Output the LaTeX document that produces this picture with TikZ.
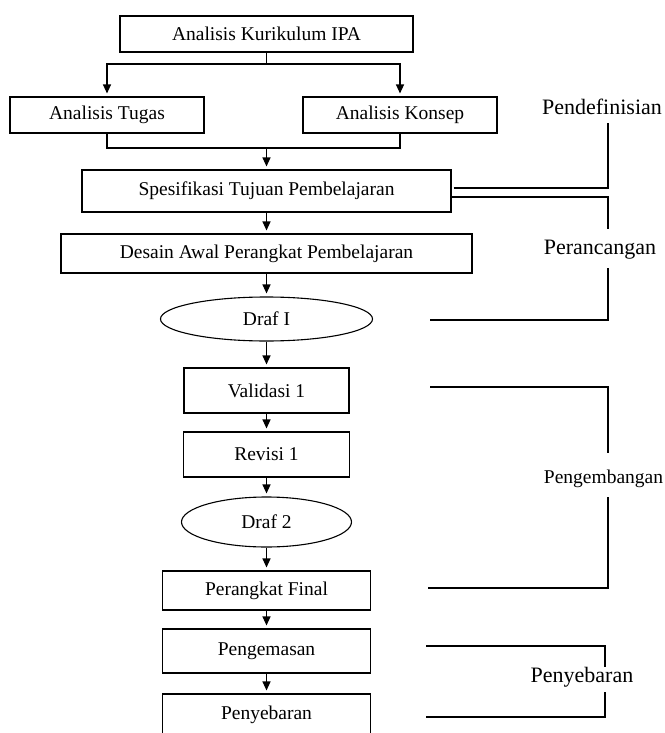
\documentclass[tikz,border=0pt]{standalone}
\usepackage{fontspec}
\setmainfont{Liberation Serif}
\usetikzlibrary{shapes.geometric, arrows.meta}
\tikzset{
  stepbox/.style={draw, rectangle, line width=1.1pt, inner sep=0pt},
  drafnode/.style={draw, ellipse, line width=1.1pt, inner sep=0pt},
  flow/.style={->, line width=1.2pt, shorten >=3pt},
  link/.style={line width=1.2pt},
  stagetext/.style={font=\fontsize{22}{24}\selectfont}
}

\begin{document}
\begin{tikzpicture}[x=1pt, y=-1pt, >={Triangle[length=9pt,width=8pt]}, every node/.style={font=\fontsize{19.5}{22}\selectfont}]

\useasboundingbox (0,0) rectangle (664,733);
\clip (0,0) rectangle (664,733);

% Analysis steps
\node[stepbox, minimum width=293pt, minimum height=36pt] (kur) at (266.5,34) {Analisis Kurikulum IPA};
\node[stepbox, minimum width=194pt, minimum height=36pt] (tugas) at (107,115) {Analisis Tugas};
\node[stepbox, minimum width=194pt, minimum height=36pt] (konsep) at (400,115) {Analisis Konsep};
\node[stepbox, minimum width=369pt, minimum height=42pt] (spes) at (266.5,191) {Spesifikasi Tujuan Pembelajaran};

% Design and development steps
\node[stepbox, minimum width=411pt, minimum height=39pt] (desain) at (266.5,253.5) {Desain Awal Perangkat Pembelajaran};
\node[drafnode, minimum width=212pt, minimum height=44pt] (draf1) at (266.5,319) {Draf I};
\node[stepbox, minimum width=165pt, minimum height=45pt] (val) at (266.5,390.5) {Validasi 1};
\node[stepbox, minimum width=166pt, minimum height=45pt] (rev) at (266.5,454.5) {Revisi 1};
\node[drafnode, minimum width=170pt, minimum height=50pt] (draf2) at (266.5,522) {Draf 2};
\node[stepbox, minimum width=208pt, minimum height=39pt] (final) at (266.5,590.5) {Perangkat Final};
\node[stepbox, minimum width=208pt, minimum height=44pt] (kemas) at (266.5,651) {Pengemasan};
\node[stepbox, minimum width=208pt, minimum height=42pt] (sebar) at (266.5,715) {Penyebaran};

% Split and join of the analysis
\coordinate (split) at (266.5,64);
\coordinate (join) at (266.5,148);
\draw[link] (kur) -- (split);
\draw[flow] (split) -| (tugas);
\draw[flow] (split) -| (konsep);
\draw[link] (tugas) |- (join);
\draw[link] (konsep) |- (join);
\draw[flow] (join) -- (spes);

% Main column arrows
\draw[flow] (spes) -- (desain);
\draw[flow] (desain) -- (draf1);
\draw[flow] (draf1) -- (val);
\draw[flow] (val) -- (rev);
\draw[flow] (rev) -- (draf2);
\draw[flow] (draf2) -- (final);
\draw[flow] (final) -- (kemas);
\draw[flow] (kemas) -- (sebar);

% Stage names
\node[stagetext] (def) at (602,107) {Pendefinisian};
\node[stagetext] (ran) at (600,250) {Perancangan};
\node[inner sep=0pt] (kem) at (603.5,479) {Pengembangan};
\node[stagetext] (seb) at (582,677) {Penyebaran};

% Stage brackets
\coordinate (defA) at (608,123);
\coordinate (ranA) at (608,229);
\coordinate (ranB) at (608,268);
\coordinate (ranC) at (430,320);
\coordinate (kemA) at (430,387);
\coordinate (kemB) at (608,453);
\coordinate (kemC) at (608,497);
\coordinate (kemD) at (428,588);
\coordinate (sebA) at (426,646);
\coordinate (sebB) at (605,667);
\coordinate (sebC) at (605,692);
\coordinate (sebD) at (426,717);
\draw[link] ([shift={(2,-3)}]spes.east) -| (defA);
\draw[link] ([shift={(-1,6)}]spes.east) -| (ranA);
\draw[link] (ranB) |- (ranC);
\draw[link] (kemA) -| (kemB);
\draw[link] (kemC) |- (kemD);
\draw[link] (sebA) -| (sebB);
\draw[link] (sebC) |- (sebD);

\end{tikzpicture}
\end{document}
